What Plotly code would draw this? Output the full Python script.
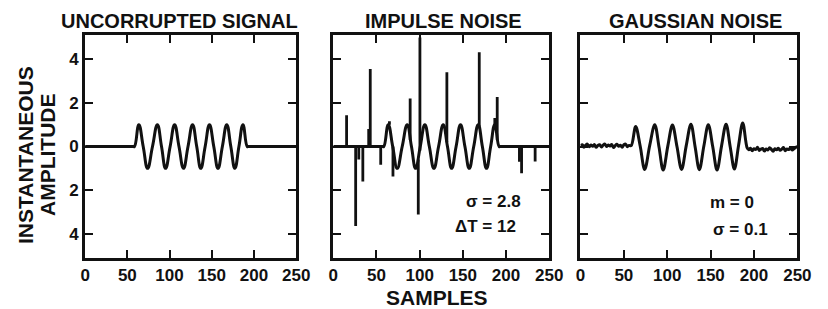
import plotly.graph_objects as go

# ---------------- data ----------------
SAMPLE_TICKS = [0, 50, 100, 150, 200, 250]
SAMPLE_TICK_TEXT = ["0", "50", "100", "150", "200", "250"]
AMP_TICKS = [-4, -2, 0, 2, 4]
AMP_TICK_TEXT = ["4", "2", "0", "2", "4"]

PANEL_TITLES = ["UNCORRUPTED SIGNAL", "IMPULSE NOISE", "GAUSSIAN NOISE"]
Y_TITLE_LINES = ["INSTANTANEOUS", "AMPLITUDE"]
X_TITLE = "SAMPLES"
IMPULSE_NOTES = ["σ = 2.8", "ΔT = 12"]
GAUSS_NOTES = ["m = 0", "σ = 0.1"]

# clean signal: key points (start, peaks, zero crossings, troughs, end)
SIGNAL_N = [0, 57, 58.5, 63.6, 68.8, 74.0, 79.8, 85.6, 90.5, 95.3, 100.7, 106.0,
            111.2, 116.5, 121.9, 127.3, 132.2, 137.0, 142.2, 147.3, 152.4, 157.4,
            162.6, 167.8, 172.6, 177.4, 182.2, 187.0, 192.0, 193.5, 250]
SIGNAL_V = [0, 0, 0, 1, 0, -1, 0, 1, 0, -1, 0, 1, 0, -1, 0, 1, 0, -1, 0, 1, 0, -1,
            0, 1, 0, -1, 0, 1, 0, 0, 0]

# impulse noise spikes: sample position, level they start from, tip value
IMPULSE_N = [15.4, 25.9, 29.5, 34.2, 41.0, 42.8, 54.9, 65.0, 69.1, 89.0, 98.4,
             100.3, 131.5, 169.0, 187.0, 189.8, 215.5, 218.0, 233.7]
IMPULSE_BASE = [0, 0, 0, 0, 0, 0, 0, 1.0, 0, 0.3, -0.6, -0.2, 0.2, 0.9, 1.0, 0.3,
                0, 0, 0]
IMPULSE_PEAK = [1.43, -3.64, -0.6, -1.6, 0.8, 3.55, -0.84, 1.15, -1.37, 2.19, -3.11,
                4.99, 3.4, 4.31, 1.3, 2.26, -0.7, -1.22, -0.69]

# signal with gaussian noise
GAUSS_N = [0, 2, 4, 6, 8, 10, 12, 14, 16, 18, 20, 22, 24, 26, 28, 30, 32, 34, 36,
           38, 40, 42, 44, 46, 48, 50, 52, 54, 56,
           58.5, 63.6, 68.8, 74.0, 79.8, 85.6, 90.5, 95.3, 100.7, 106.0, 111.2,
           116.5, 121.9, 127.3, 132.2, 137.0, 142.2, 147.3, 152.4, 157.4, 162.6,
           167.8, 172.6, 177.4, 182.2, 187.0, 192.0,
           194, 196, 198, 200, 202, 204, 206, 208, 210, 212, 214, 216, 218, 220,
           222, 224, 226, 228, 230, 232, 234, 236, 238, 240, 242, 244, 246, 248, 250]
GAUSS_V = [0.03, 0.08, -0.03, 0.06, 0.11, -0.01, 0.07, 0.01, 0.09, -0.04, 0.05,
           0.08, -0.02, 0.06, 0.12, 0.0, 0.07, 0.02, 0.09, -0.05, 0.04, 0.1, 0.01,
           0.06, -0.03, 0.08, 0.11, -0.01, 0.05,
           0.04, 0.92, 0.02, -1.05, 0.05, 1.0, -0.02, -1.08, 0.03, 0.98, 0.0,
           -1.05, 0.04, 1.02, -0.03, -1.06, 0.02, 1.0, 0.0, -1.08, 0.03, 1.02,
           -0.02, -1.03, 0.05, 1.08, -0.05,
           -0.15, -0.08, -0.2, -0.1, -0.14, -0.04, -0.18, -0.12, -0.09, -0.21,
           -0.11, -0.16, -0.06, -0.13, -0.22, -0.1, -0.15, -0.08, -0.17, -0.12,
           -0.05, -0.19, -0.11, -0.14, -0.07, -0.16, -0.1, -0.04, 0.0]

# ---------------- style ----------------
W, H = 828, 309
INK = "#111111"
FONT = "Liberation Sans, Arial, Helvetica, sans-serif"
LW = 3
FRAME_W = 2.8


def px_x(px):
    return px / W


def px_y(py):
    return 1 - py / H


X_DOMAINS = [[px_x(82), px_x(298)], [px_x(336), px_x(557)], [px_x(589), px_x(811)]]
Y_DOMAIN = [px_y(258), px_y(35)]

fig = go.Figure()

line_style = dict(color=INK, width=LW, shape="spline", smoothing=1.3)

# panel 1
fig.add_trace(go.Scatter(x=SIGNAL_N, y=SIGNAL_V, mode="lines", line=line_style,
                         xaxis="x", yaxis="y", hoverinfo="skip"))
# panel 2
fig.add_trace(go.Scatter(x=SIGNAL_N, y=SIGNAL_V, mode="lines", line=line_style,
                         xaxis="x2", yaxis="y2", hoverinfo="skip"))
sx, sy = [], []
for n, b, p in zip(IMPULSE_N, IMPULSE_BASE, IMPULSE_PEAK):
    sx += [n, n, None]
    sy += [b, p, None]
fig.add_trace(go.Scatter(x=sx, y=sy, mode="lines", line=dict(color=INK, width=2.8),
                         xaxis="x2", yaxis="y2", hoverinfo="skip"))
# panel 3
fig.add_trace(go.Scatter(x=GAUSS_N, y=GAUSS_V, mode="lines",
                         line=dict(color=INK, width=LW, shape="spline", smoothing=1.0),
                         xaxis="x3", yaxis="y3", hoverinfo="skip"))

tick_font = dict(family=FONT, size=17, color=INK, weight="bold")


def xaxis(i):
    return dict(domain=X_DOMAINS[i], anchor="y" if i == 0 else f"y{i+1}",
                range=[0, 250], tickmode="array", tickvals=SAMPLE_TICKS,
                ticktext=SAMPLE_TICK_TEXT, ticks="inside", ticklen=8, tickwidth=2.2,
                tickcolor=INK, showline=True, linewidth=FRAME_W, linecolor=INK,
                mirror="ticks", showgrid=False, zeroline=False, tickfont=tick_font,
                fixedrange=True)


def yaxis(i):
    return dict(domain=Y_DOMAIN, anchor="x" if i == 0 else f"x{i+1}",
                range=[-5.1, 5.1], tickmode="array", tickvals=AMP_TICKS,
                ticktext=AMP_TICK_TEXT, ticks="inside", ticklen=8, tickwidth=2.2,
                tickcolor=INK, showline=True, linewidth=FRAME_W, linecolor=INK,
                mirror="ticks", showgrid=False, zeroline=False, tickfont=tick_font,
                showticklabels=(i == 0), fixedrange=True)


annotations = []
title_font = dict(family=FONT, size=20, color=INK, weight="bold")
for t, cx in zip(PANEL_TITLES, [179, 449, 707]):
    annotations.append(dict(text=t, x=px_x(cx), y=px_y(20.5), xref="paper", yref="paper",
                            xanchor="center", yanchor="middle", showarrow=False,
                            font=title_font))
for t, cx in zip(Y_TITLE_LINES, [20.5, 43]):
    annotations.append(dict(text=t, x=px_x(cx), y=px_y(155), xref="paper", yref="paper",
                            xanchor="center", yanchor="middle", textangle=-90,
                            showarrow=False, font=dict(family=FONT, size=21, color=INK,
                                                       weight="bold")))
annotations.append(dict(text=X_TITLE, x=px_x(442.5), y=px_y(297.5), xref="paper",
                        yref="paper", xanchor="center", yanchor="middle", showarrow=False,
                        font=dict(family=FONT, size=21, color=INK, weight="bold")))
note_font = dict(family=FONT, size=17, color=INK, weight="bold")
for t, cx, cy in zip(IMPULSE_NOTES, [500, 491.5], [201, 226.5]):
    annotations.append(dict(text=t, x=px_x(cx), y=px_y(cy), xref="paper", yref="paper",
                            xanchor="center", yanchor="middle", showarrow=False,
                            font=note_font))
for t, cx, cy in zip(GAUSS_NOTES, [744.5, 753], [202, 229]):
    annotations.append(dict(text=t, x=px_x(cx), y=px_y(cy), xref="paper", yref="paper",
                            xanchor="center", yanchor="middle", showarrow=False,
                            font=note_font))

fig.update_layout(
    width=W, height=H, margin=dict(l=0, r=0, t=0, b=0),
    paper_bgcolor="white", plot_bgcolor="white", showlegend=False,
    xaxis=xaxis(0), xaxis2=xaxis(1), xaxis3=xaxis(2),
    yaxis=yaxis(0), yaxis2=yaxis(1), yaxis3=yaxis(2),
    annotations=annotations,
)

fig.write_html(
    "out.html",
    config={"displayModeBar": False},
    post_script="document.body.style.margin='0';document.body.style.overflow='hidden';",
)
